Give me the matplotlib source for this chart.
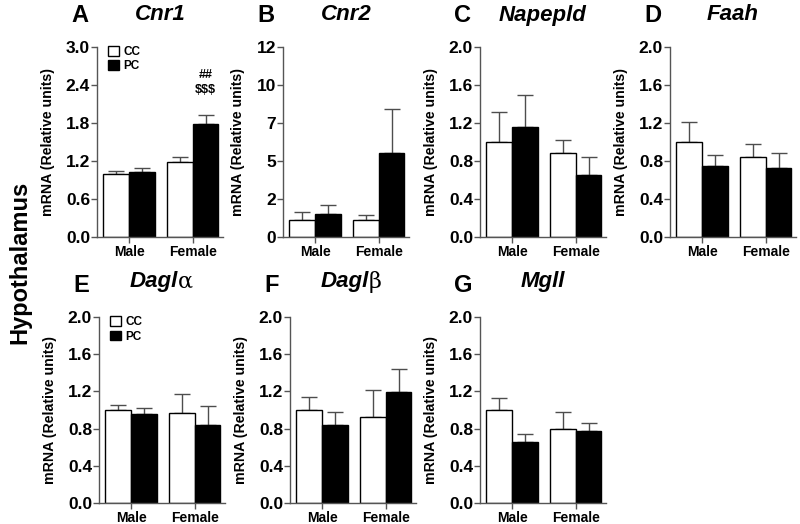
import matplotlib
matplotlib.use("Agg")
import matplotlib.pyplot as plt
from matplotlib.patches import Patch
from matplotlib.ticker import FormatStrFormatter

plt.rcParams['font.family'] = ['Liberation Sans', 'DejaVu Sans']

groups = ['Male', 'Female']
treatments = ['CC', 'PC']

# mean and SEM per gene: [male CC, male PC, female CC, female PC]
genes = ['Cnr1', 'Cnr2', 'Napepld', 'Faah', 'Dagl', 'Dagl', 'Mgll']
greek = ['', '', '', '', '\u03b1', '\u03b2', '']
letters = ['A', 'B', 'C', 'D', 'E', 'F', 'G']
cnr1_mean = [1.00, 1.03, 1.19, 1.78]
cnr1_sem = [0.05, 0.06, 0.07, 0.14]
cnr2_mean = [1.05, 1.47, 1.05, 5.33]
cnr2_sem = [0.55, 0.57, 0.36, 2.73]
napepld_mean = [1.00, 1.16, 0.88, 0.65]
napepld_sem = [0.32, 0.33, 0.14, 0.19]
faah_mean = [1.00, 0.75, 0.84, 0.73]
faah_sem = [0.21, 0.11, 0.14, 0.15]
dagla_mean = [1.00, 0.96, 0.97, 0.84]
dagla_sem = [0.05, 0.06, 0.20, 0.20]
daglb_mean = [1.00, 0.84, 0.92, 1.19]
daglb_sem = [0.14, 0.14, 0.29, 0.25]
mgll_mean = [1.00, 0.66, 0.80, 0.77]
mgll_sem = [0.13, 0.08, 0.18, 0.09]
means = [cnr1_mean, cnr2_mean, napepld_mean, faah_mean, dagla_mean, daglb_mean, mgll_mean]
sems = [cnr1_sem, cnr2_sem, napepld_sem, faah_sem, dagla_sem, daglb_sem, mgll_sem]
ymax = [3.0, 12.0, 2.0, 2.0, 2.0, 2.0, 2.0]
ystep = [0.6, 2.4, 0.4, 0.4, 0.4, 0.4, 0.4]
yfmt = ['%.1f', '%.0f', '%.1f', '%.1f', '%.1f', '%.1f', '%.1f']

W, H = 800, 524
fig = plt.figure(figsize=(8, 5.24), dpi=100)

# axes placement in pixels (left, top, bottom)
lefts = [97, 283, 480, 670, 99, 290, 480]
tops = [47, 47, 47, 47, 317, 317, 317]
bottoms = [237, 237, 237, 237, 503, 503, 503]
axw = 126

errc = '#4d4d4d'
centers = [1.25, 3.72]
bw = 1.0

for i in range(7):
    l, t, b = lefts[i], tops[i], bottoms[i]
    ax = fig.add_axes([l / W, (H - b) / H, axw / W, (b - t) / H])
    m = means[i]
    s = sems[i]
    xs = [centers[0] - bw / 2, centers[0] + bw / 2, centers[1] - bw / 2, centers[1] + bw / 2]
    cols = ['white', 'black', 'white', 'black']
    for j in range(4):
        ax.errorbar(xs[j], m[j], yerr=[[0], [s[j]]], fmt='none', ecolor=errc,
                    elinewidth=1, capsize=6, capthick=1, zorder=1)
        ax.bar(xs[j], m[j], width=bw, color=cols[j], edgecolor='black', linewidth=1, zorder=2)
    ax.set_xlim(0, 4.9)
    ax.set_ylim(0, ymax[i])
    n = int(round(ymax[i] / ystep[i]))
    ax.set_yticks([k * ystep[i] for k in range(n + 1)])
    ax.yaxis.set_major_formatter(FormatStrFormatter(yfmt[i]))
    ax.set_xticks(centers)
    ax.set_xticklabels(groups)
    for sp in ['top', 'right']:
        ax.spines[sp].set_visible(False)
    for sp in ['left', 'bottom']:
        ax.spines[sp].set_color('#555555')
        ax.spines[sp].set_linewidth(1)
    ax.tick_params(axis='y', labelsize=12.5, length=4, width=1, color='#555555', pad=1)
    ax.tick_params(axis='x', labelsize=10, length=4, width=1, color='#555555', pad=2)
    for lab in ax.get_yticklabels() + ax.get_xticklabels():
        lab.set_fontweight('bold')
    ax.set_ylabel('mRNA (Relative units)', fontsize=10.2, fontweight='bold', labelpad=8)

    # panel letter and gene title
    fig.text((l - 26) / W, 1 - (t - 32) / H, letters[i], fontsize=17, fontweight='bold',
             ha='left', va='center')
    cx = (l + axw / 2) / W
    ty = 1 - (t - 32) / H
    if i >= 4:
        ty += 0.006
    if greek[i]:
        fig.text(cx + 0.02, ty, genes[i], fontsize=16, fontweight='bold', style='italic',
                 ha='right', va='center')
        fig.text(cx + 0.02, ty, greek[i], fontsize=16, family='DejaVu Serif',
                 ha='left', va='center')
    else:
        fig.text(cx, ty, genes[i], fontsize=16, fontweight='bold', style='italic',
                 ha='center', va='center')

    if i in (0, 4):
        handles = [Patch(facecolor='white', edgecolor='black', linewidth=1),
                   Patch(facecolor='black', edgecolor='black', linewidth=1)]
        leg = ax.legend(handles, treatments, loc='upper left', bbox_to_anchor=(0.05, 1.03),
                        frameon=False, fontsize=8.5, handlelength=0.9, handleheight=0.9,
                        handletextpad=0.4, labelspacing=0.2, borderaxespad=0)
        for tx in leg.get_texts():
            tx.set_fontweight('bold')

    if i == 0:
        top = m[3] + s[3]
        ax.text(xs[3], top + 0.40, '$$$', ha='center', va='center', fontsize=9,
                fontweight='bold')
        ax.text(xs[3], top + 0.64, '##', ha='center', va='center', fontsize=9,
                fontweight='bold')

fig.text(20 / W, 1 - 262 / H, 'Hypothalamus', rotation=90, fontsize=17, fontweight='bold',
         ha='center', va='center')

fig.savefig('out.png', dpi=100)
